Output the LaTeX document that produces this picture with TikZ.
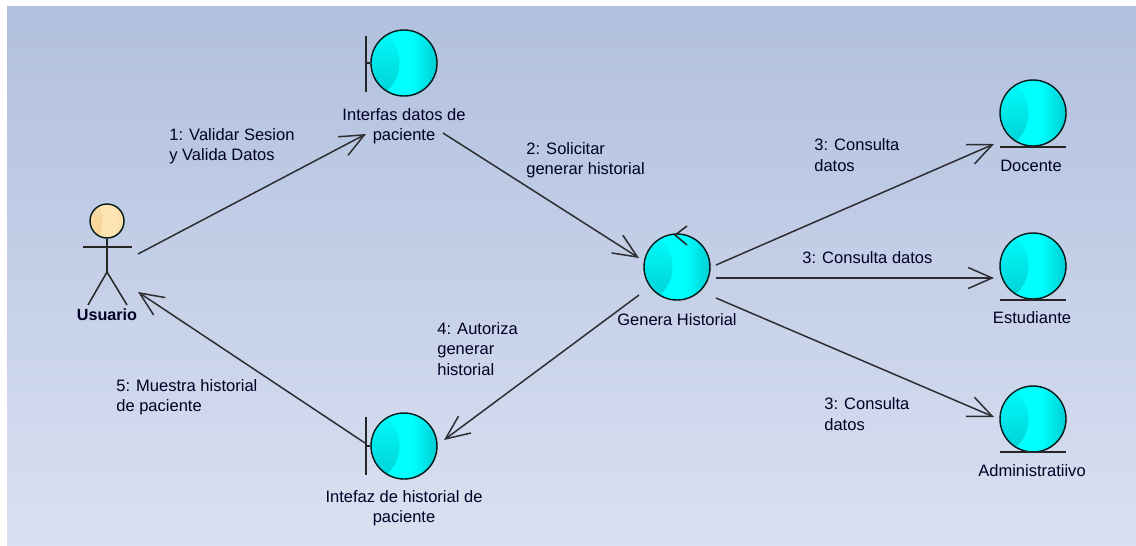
\documentclass[tikz,border=0pt]{standalone}
\usepackage{fontspec}
\setmainfont{Liberation Sans}
\usepackage{xcolor}
\usepackage{tikz}
\usetikzlibrary{arrows.meta,shadows}
\definecolor{bgTop}{RGB}{177,192,222}
\definecolor{bgBottom}{RGB}{217,224,241}
\definecolor{ballLight}{RGB}{0,255,255}
\definecolor{ballDark}{RGB}{0,205,210}
\definecolor{headLight}{RGB}{253,228,178}
\definecolor{headDark}{RGB}{245,203,135}
\definecolor{lineGrey}{RGB}{45,45,50}
\tikzset{
    txt/.style={font=\fontsize{9.4}{11.6}\selectfont, inner sep=0pt, text=black!85!blue},
    msgText/.style={txt, anchor=west, align=left},
    nameText/.style={txt, anchor=center, align=center},
    msg/.style={draw=lineGrey, line width=0.03cm, -{Straight Barb[length=0.48cm,width=0.42cm]}},
    glyph/.style={draw=black!85, line width=0.03cm},
    ball/.style n args={3}{circle, draw=black!80!teal, line width=0.028cm, minimum size=1.32cm, inner sep=0pt,
        drop shadow={shadow xshift=0.5pt, shadow yshift=-0.5pt, opacity=0.25},
        path picture={
            \fill[#1] ([shift={(-40,-40)}]path picture bounding box.center) rectangle ([shift={(8,40)}]path picture bounding box.center);
            \shade[left color=#1, right color=#2] ([shift={(8,-40)}]path picture bounding box.center) rectangle ([shift={(#3,40)}]path picture bounding box.center);
            \shade[top color=#1, middle color=#1!60!#2, bottom color=#2] ([shift={(-42,0)}]path picture bounding box.center) circle (37.5);
        }},
    control/.style={ball={ballLight}{ballDark}{33}},
    head/.style={ball={headLight}{headDark}{33}, minimum size=0.68cm}
}
\begin{document}
\begin{tikzpicture}[x=0.02cm, y=-0.02cm]
    \useasboundingbox (0,0) rectangle (1136,545);
    \shade[top color=bgTop, bottom color=bgBottom] (7,6) rectangle (1136,545);

    \node[head] (usuario) at (107,221) {};
    \node[control] (interfas) at (404,63) {};
    \node[control] (intefaz) at (404,446) {};
    \node[control] (genera) at (677,267) {};
    \node[control] (docente) at (1033,113) {};
    \node[control] (estudiante) at (1033,266) {};
    \node[control] (administrativo) at (1033,419) {};

    \node[nameText, font=\fontsize{9.2}{11.6}\selectfont\bfseries] (usuarioName) at (107,315) {Usuario};
    \node[nameText] (interfasName) at (404,126) {Interfas datos de\\paciente};
    \node[nameText] (intefazName) at (404,508) {Intefaz de historial de\\paciente};
    \node[nameText] (generaName) at (677,320) {Genera Historial};
    \node[nameText] (docenteName) at (1031,166) {Docente};
    \node[nameText] (estudianteName) at (1032,318) {Estudiante};
    \node[nameText] (administrativoName) at (1032,471) {Administratiivo};

    \draw[glyph] (usuario.south) -- ([shift={(0,51)}]usuario.center);
    \draw[glyph] ([shift={(-24,26)}]usuario.center) -- ([shift={(25,26)}]usuario.center);
    \draw[glyph] ([shift={(-19,84)}]usuario.center) -- ([shift={(0,51)}]usuario.center) -- ([shift={(20,84)}]usuario.center);

    \draw[glyph] ([shift={(-38,-27)}]interfas.center) -- ([shift={(-38,29)}]interfas.center);
    \draw[glyph] ([shift={(-38,0)}]interfas.center) -- (interfas.west);
    \draw[glyph] ([shift={(-38,-29)}]intefaz.center) -- ([shift={(-38,29)}]intefaz.center);
    \draw[glyph] ([shift={(-38,0)}]intefaz.center) -- (intefaz.west);

    \draw[glyph] ([shift={(-33,34)}]docente.center) -- ([shift={(33,34)}]docente.center);
    \draw[glyph] ([shift={(-33,34)}]estudiante.center) -- ([shift={(33,34)}]estudiante.center);
    \draw[glyph] ([shift={(-33,33)}]administrativo.center) -- ([shift={(33,33)}]administrativo.center);

    \draw[glyph] ([shift={(10,-41)}]genera.center) -- ([shift={(-2,-32)}]genera.center) -- ([shift={(10,-22)}]genera.center);

    \draw[msg] ([shift={(31,33)}]usuario.center) -- ([shift={(-38,71)}]interfas.center);
    \draw[msg] ([shift={(39,70)}]interfas.center) -- ([shift={(-38,-9)}]genera.center);
    \draw[msg] ([shift={(39,-2)}]genera.center) -- ([shift={(-39,31)}]docente.center);
    \draw[msg] ([shift={(39,11)}]genera.center) -- ([shift={(-39,12)}]estudiante.center);
    \draw[msg] ([shift={(39,31)}]genera.center) -- ([shift={(-39,-2)}]administrativo.center);
    \draw[msg] ([shift={(-38,28)}]genera.center) -- ([shift={(40,-6)}]intefaz.center);
    \draw[msg] ([shift={(-39,-3)}]intefaz.center) -- ([shift={(31,71)}]usuario.center);

    \node[msgText] (msgValidar) at (169,146) {1: Validar Sesion\\y Valida Datos};
    \node[msgText] (msgSolicitar) at (526,160) {2: Solicitar\\generar historial};
    \node[msgText] (msgDocente) at (814,155) {3: Consulta\\datos};
    \node[msgText] (msgEstudiante) at (802,258) {3: Consulta datos};
    \node[msgText] (msgAdministrativo) at (824,414) {3: Consulta\\datos};
    \node[msgText] (msgAutoriza) at (437,349) {4: Autoriza\\generar\\historial};
    \node[msgText] (msgMuestra) at (116,397) {5: Muestra historial\\de paciente};
\end{tikzpicture}
\end{document}
